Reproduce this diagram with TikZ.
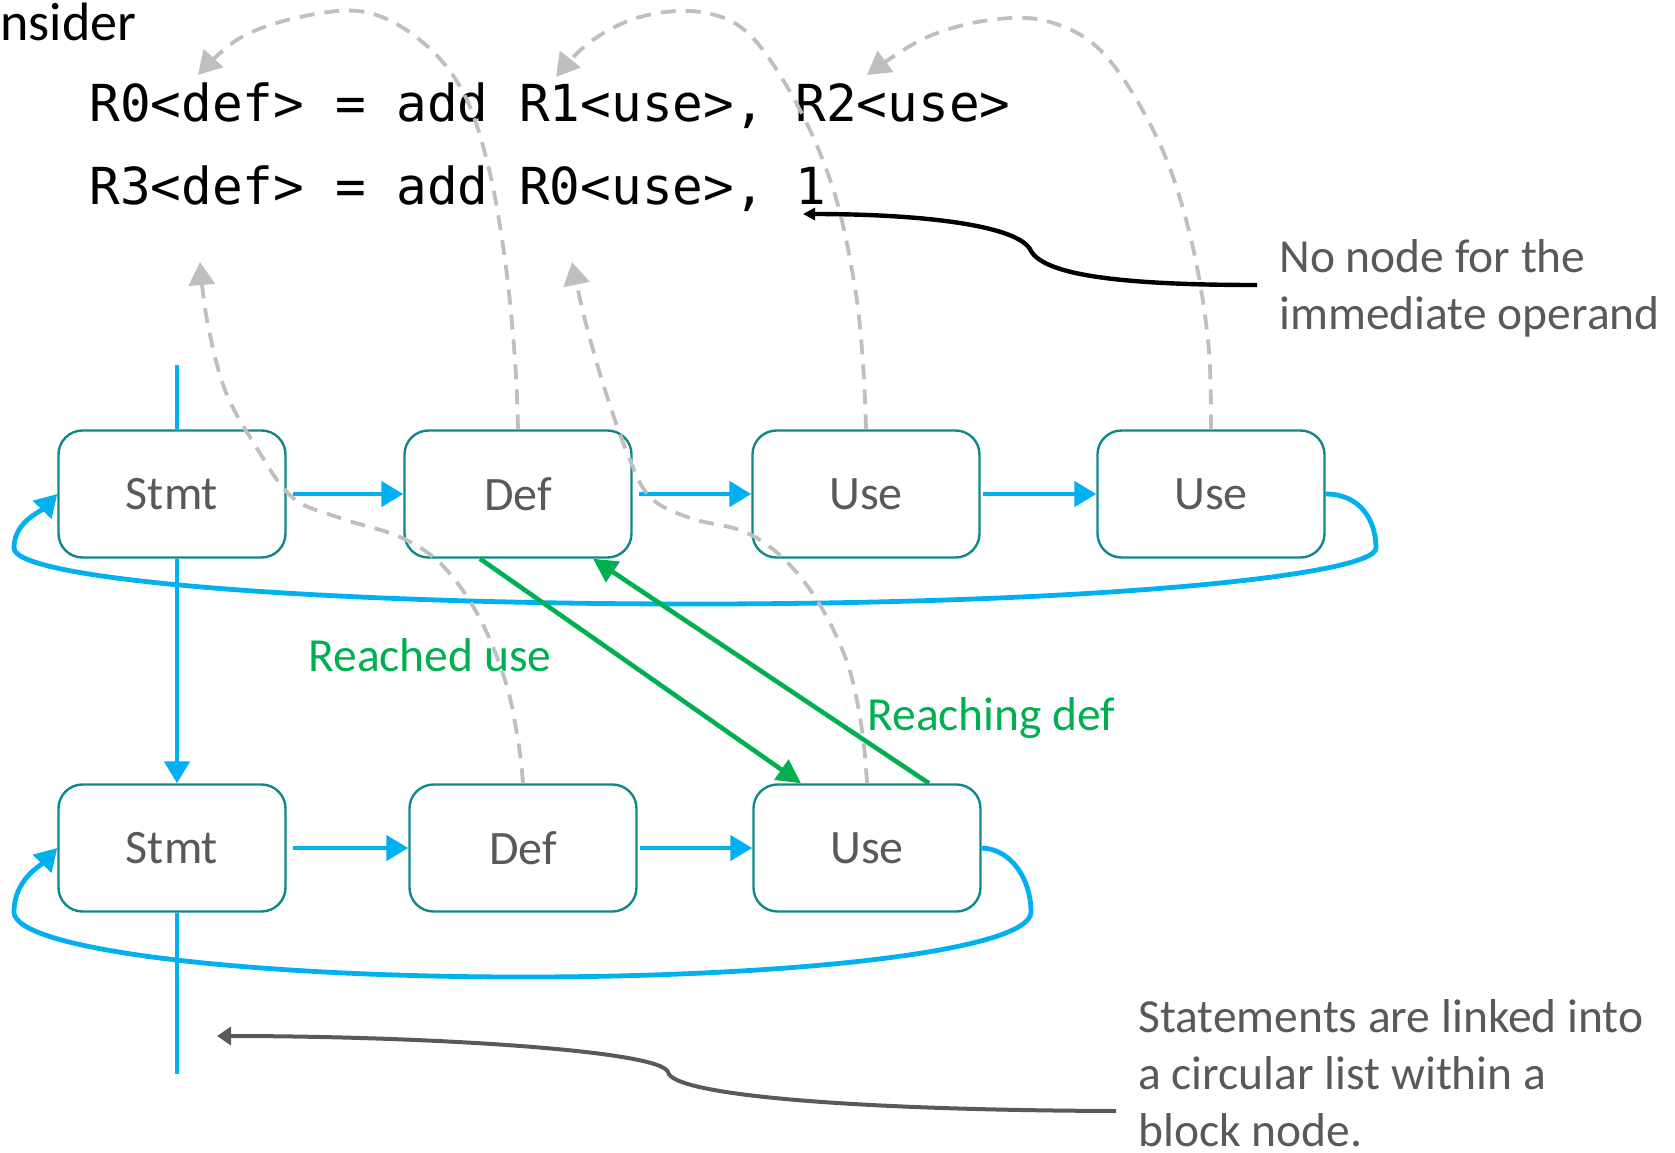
\documentclass[tikz,border=0pt]{standalone}
\usepackage{fontspec}
\setmainfont{Carlito}
\newfontfamily\codefont{DejaVu Sans Mono}
\usetikzlibrary{arrows.meta,calc}
\definecolor{boxteal}{HTML}{12878A}
\definecolor{txtgray}{HTML}{595959}
\definecolor{lblue}{HTML}{00B0F0}
\definecolor{lgreen}{HTML}{00B050}
\definecolor{dgray}{HTML}{BFBFBF}
\begin{document}
\begin{tikzpicture}[x=0.5pt,y=-0.5pt,
  blk/.style={draw=boxteal, line width=1.2pt, rounded corners=12pt, minimum width=113.5pt, minimum height=63.5pt, inner sep=0pt, text=txtgray, font=\fontsize{24}{28}\selectfont},
  flow/.style={draw=lblue, line width=2.4pt, -{Triangle[length=11pt,width=12.5pt]}},
  vline/.style={draw=lblue, line width=2.4pt},
  reach/.style={draw=lgreen, line width=2.3pt, -{Triangle[length=12pt,width=12pt]}},
  ref/.style={draw=dgray, line width=1.9pt, dash pattern=on 7.5pt off 5pt, -{Triangle[length=11.5pt,width=13pt,fill=dgray]}},
  note/.style={text=txtgray, align=left, inner sep=0pt, font=\fontsize{23.75}{28.5}\selectfont},
  lbl/.style={text=lgreen, inner sep=0pt, font=\fontsize{23.75}{28.5}\selectfont},
  code/.style={text=black, inner sep=0pt, font=\codefont\fontsize{25.5}{30}\selectfont},
  callout/.style={draw=black, line width=2.2pt, -{Triangle[length=6pt,width=6pt]}},
  callouttwo/.style={draw=txtgray, line width=2pt, -{Triangle[length=7pt,width=9pt]}}
]
\path[use as bounding box] (0,0) rectangle (1675,1152);

% heading and code
\node[anchor=base west, inner sep=0pt, font=\fontsize{27}{32}\selectfont] (consider) at (0,40) {nsider};
\node[code, anchor=base west] (code1) at (89,121) {R0<def> = add R1<use>, R2<use>};
\node[code, anchor=base west] (code2) at (89,204) {R3<def> = add R0<use>, 1};

% boxes
\node[blk] (Stmt1) at (172,494) {Stmt};
\node[blk] (Def1) at (518,494) {Def};
\node[blk] (Use1) at (866,494) {Use};
\node[blk] (Use2) at (1211,494) {Use};
\node[blk] (Stmt2) at (172,848) {Stmt};
\node[blk] (Def2) at (523,848) {Def};
\node[blk] (Use3) at (867,848) {Use};

% vertical list line
\coordinate (vtop) at (177,365);
\coordinate (vbot) at (177,1074);
\draw[vline] (vtop) -- (vtop |- Stmt1.north);
\draw[flow] (vtop |- Stmt1.south) -- (vtop |- Stmt2.north);
\draw[vline] (vtop |- Stmt2.south) -- (vbot);

% horizontal links
\draw[flow] ($(Stmt1.east)+(6,0)$) -- (Def1.west);
\draw[flow] ($(Def1.east)+(6,0)$) -- (Use1.west);
\draw[flow] ($(Use1.east)+(2,0)$) -- (Use2.west);
\draw[flow] ($(Stmt2.east)+(6,0)$) -- (Def2.west);
\draw[flow] ($(Def2.east)+(2,0)$) -- (Use3.west);

% circular loops
\draw[flow] (Use2.east) .. controls (1360,494) and (1376,520) .. (1376,548)
  .. controls (1376,575) and (1100,604) .. (694,604)
  .. controls (320,604) and (14,580) .. (14,548)
  .. controls (14,522) and (40,512) .. (Stmt1.west);
\draw[flow] (Use3.east) .. controls (1012,849) and (1031,880) .. (1031,912)
  .. controls (1031,950) and (800,977) .. (523,977)
  .. controls (250,977) and (14,950) .. (14,912)
  .. controls (14,880) and (40,866) .. (Stmt2.west);

% reaching arrows
\draw[reach] ($(Def1.south)+(-38,0)$) -- ($(Use3.north)+(-66,0)$);
\draw[reach] ($(Use3.north)+(62,0)$) -- ($(Def1.south)+(75,0)$);
\node[lbl, anchor=base west] (lreached) at (308,671) {Reached use};
\node[lbl, anchor=base west] (lreaching) at (867,730) {Reaching def};

% dashed references to the source
\coordinate (r0def) at (198,75);
\coordinate (r1use) at (556,77);
\coordinate (r2use) at (867,75);
\coordinate (r3def) at (200,262);
\coordinate (r0use) at (572,262);
\draw[ref] plot[smooth, tension=0.6] coordinates {(Def1.north) (515,360) (505,260) (488,165) (462,90) (420,40) (365,12) (300,17) (240,38) (r0def)};
\draw[ref] plot[smooth, tension=0.6] coordinates {(Use1.north) (863,363) (855,288) (835,195) (800,110) (750,35) (700,12) (640,17) (590,42) (r1use)};
\draw[ref] plot[smooth, tension=0.6] coordinates {(Use2.north) (1208,340) (1190,235) (1158,140) (1105,55) (1050,22) (990,20) (925,38) (r2use)};
\draw[ref] plot[smooth, tension=0.6] coordinates {(Def2.north) (518,740) (505,680) (478,615) (442,565) (400,537) (340,518) (292,497) (255,445) (225,390) (207,320) (r3def)};
\draw[ref] plot[smooth, tension=0.6] coordinates {(Use3.north) (862,730) (848,665) (820,605) (785,560) (745,532) (690,518) (650,497) (628,455) (605,390) (585,320) (r0use)};

% notes
\node[note, anchor=north west] (note1) at (1279,239) {No node for the\\immediate operand};
\node[note, anchor=north west] (note2) at (1138,999) {Statements are linked into\\a circular list within a\\block node.};
\coordinate (n1s) at (1257,285);
\coordinate (imm) at (803,214);
\draw[callout] (n1s) .. controls (1120,285) and (1045,275) .. (1031,251)
  .. controls (1020,225) and (920,214) .. (imm);
\coordinate (n2s) at (1116,1111);
\coordinate (vnote) at (217,1036);
\draw[callouttwo] (n2s) .. controls (850,1110) and (672,1095) .. (668,1072)
  .. controls (660,1050) and (420,1036) .. (vnote);
\end{tikzpicture}
\end{document}
